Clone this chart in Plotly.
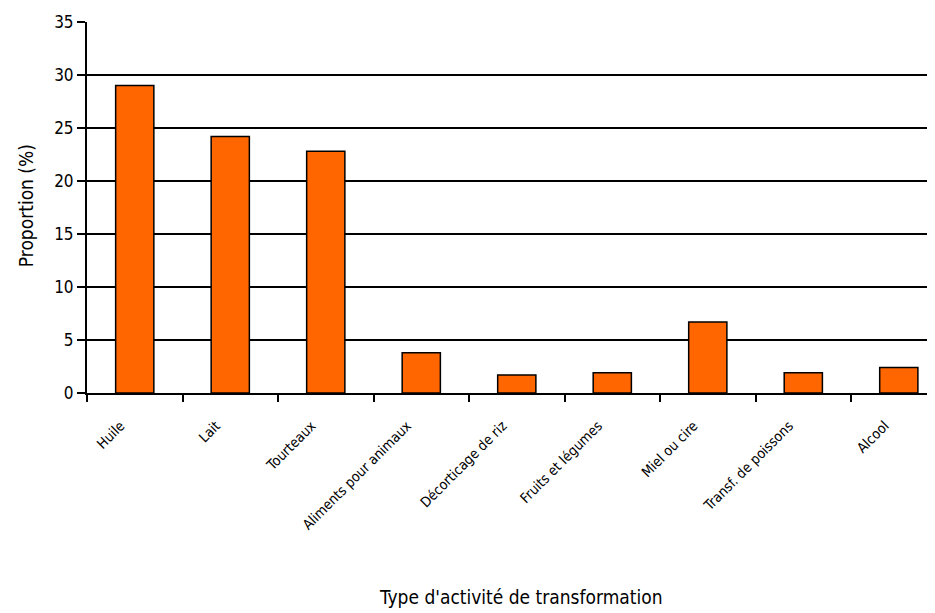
import plotly.graph_objects as go

categories = ['Huile', 'Lait', 'Tourteaux', 'Aliments pour animaux', 'Décorticage de riz',
              'Fruits et légumes', 'Miel ou cire', 'Transf. de poissons', 'Alcool']
proportions = [29.0, 24.2, 22.8, 3.8, 1.7, 1.9, 6.7, 1.9, 2.4]
y_ticks = [0, 5, 10, 15, 20, 25, 30, 35]

FONT = "DejaVu Sans Condensed, Liberation Sans Narrow, Arial Narrow, Liberation Sans, Arial, sans-serif"

# trailing no-break spaces nudge the rotated labels left of the category centre
tick_text = [c + '\u00a0' * 5 for c in categories]

fig = go.Figure()
fig.add_trace(
    go.Bar(
        x=categories,
        y=proportions,
        marker=dict(color='#FF6600', line=dict(color='black', width=1.5)),
    )
)

# page has an 8px body margin, so the figure is a bit smaller than the window
fig.update_layout(
    width=927,
    height=605,
    margin=dict(l=78.5, r=0, t=13.7, b=219.7, autoexpand=False),
    plot_bgcolor='white',
    paper_bgcolor='white',
    bargap=0.6,
    showlegend=False,
    font=dict(family=FONT, color='black'),
)

fig.update_yaxes(
    range=[0, 35],
    tickvals=y_ticks,
    automargin=False,
    showgrid=True,
    gridcolor='black',
    gridwidth=1.5,
    showline=True,
    linecolor='black',
    linewidth=2,
    ticks='outside',
    ticklen=8,
    tickwidth=1.5,
    tickcolor='black',
    tickfont=dict(size=17, family=FONT),
    zeroline=False,
)

fig.update_xaxes(
    range=[-0.5, 8.379],
    automargin=False,
    tickvals=categories,
    ticktext=tick_text,
    showline=True,
    linecolor='black',
    linewidth=2,
    ticks='outside',
    tickson='boundaries',
    ticklen=7,
    tickwidth=1.5,
    tickcolor='black',
    tickangle=-45,
    tickfont=dict(size=14, family=FONT),
    ticklabelstandoff=3,
)

fig.add_annotation(
    text='Proportion (%)', textangle=-90,
    xref='paper', yref='paper', x=-0.0725, y=0.505,
    xanchor='center', yanchor='middle',
    showarrow=False, font=dict(size=19, family=FONT),
)
fig.add_annotation(
    text="Type d'activité de transformation",
    xref='paper', yref='paper', x=0.512, y=-0.551,
    xanchor='center', yanchor='middle',
    showarrow=False, font=dict(size=19, family=FONT),
)

fig.write_html("out.html")
